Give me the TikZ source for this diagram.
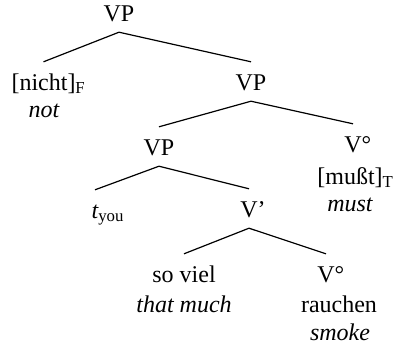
\documentclass[tikz,border=0pt]{standalone}
\usepackage{fontspec}
\setmainfont{Liberation Serif}
\usepackage{tikz}

\begin{document}
\begin{tikzpicture}[x=1pt,y=1pt]
\tikzstyle{every node}+=[inner sep=0pt, anchor=base, font=\fontsize{24}{28}\selectfont]
\tikzstyle{cat}=[text height=17pt, text depth=0pt, inner ysep=11pt]
\useasboundingbox (0,0) rectangle (401,-349);
% categories and heads
\node [cat] (vp1) at (119,-21) {VP};
\node [cat] (nicht) at (43.5,-90) {[nicht]\rlap{\textsubscript{F}}};
\node (not) at (44,-117) {\itshape not};
\node [cat] (vp2) at (251,-90) {VP};
\node [cat] (vp3) at (159,-155) {VP};
\node [cat] (vdeg) at (353,-152) {V\rlap{°}};
\node (musst) at (350,-184) {[mußt]\rlap{\textsubscript{T}}};
\node (must) at (350,-211) {\itshape must};
\node [cat] (tyou) at (95,-218) {\itshape t\rlap{\upshape\textsubscript{you}}};
\node [cat] (vbar) at (249,-217) {V\rlap{’}};
\node [cat] (soviel) at (184,-282) {so viel};
\node (thatmuch) at (184,-312) {\itshape that much};
\node [cat] (vdegb) at (326,-282) {V\rlap{°}};
\node (rauchen) at (339,-312) {rauchen};
\node (smoke) at (340,-340) {\itshape smoke};
% branches
\draw [black, line width=1.2pt] (nicht.north) -- (vp1.south) -- (vp2.north);
\draw [black, line width=1.2pt] (vp3.north) -- (vp2.south) -- (vdeg.north);
\draw [black, line width=1.2pt] (tyou.north) -- (vp3.south) -- (vbar.north);
\draw [black, line width=1.2pt] (soviel.north) -- (vbar.south) -- (vdegb.north);
\end{tikzpicture}
\end{document}
